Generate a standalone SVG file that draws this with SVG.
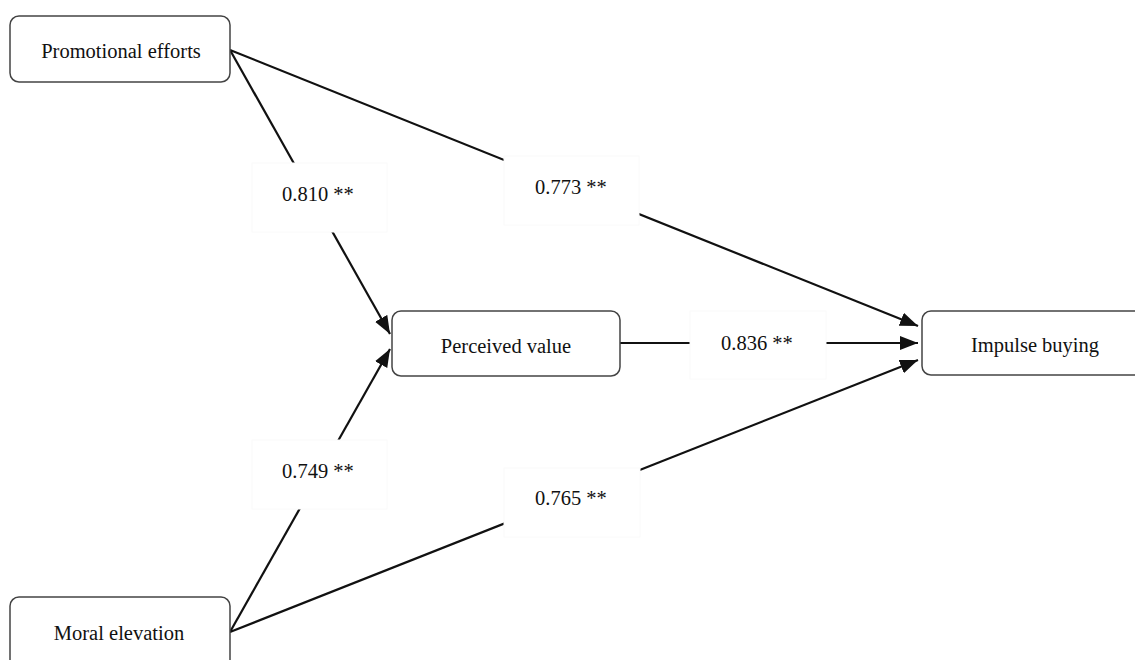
<svg xmlns="http://www.w3.org/2000/svg" width="1135" height="660" viewBox="0 0 1135 660">
<style>
.node rect{fill:#fff;stroke:#444;stroke-width:1.5}
.node text{font-family:"Liberation Serif",serif;font-size:20.5px;fill:#111;text-anchor:middle}
.edge{stroke:#111;stroke-width:2.2;fill:none}
.lbl rect{fill:#fff;stroke:#fafafa;stroke-width:1}
.lbl text{font-family:"Liberation Serif",serif;font-size:20.5px;fill:#111}
</style>
<defs>
<marker id="ah" markerUnits="userSpaceOnUse" markerWidth="20" markerHeight="16" refX="18" refY="7" orient="auto">
<path d="M0,0 L18,7 L0,14 Z" fill="#111"/>
</marker>
</defs>
<rect width="1135" height="660" fill="#fff"/>
<g id="connectors">
<line class="edge" x1="230" y1="50" x2="390" y2="334" marker-end="url(#ah)"/>
<line class="edge" x1="230" y1="50" x2="918" y2="326" marker-end="url(#ah)"/>
<line class="edge" x1="620" y1="343" x2="918" y2="343" marker-end="url(#ah)"/>
<line class="edge" x1="230" y1="632" x2="390" y2="349" marker-end="url(#ah)"/>
<line class="edge" x1="230" y1="632" x2="918" y2="360" marker-end="url(#ah)"/>
</g>
<g id="labels">
<g class="lbl"><rect x="252" y="163" width="135" height="69"/><text x="282" y="201">0.810 **</text></g>
<g class="lbl"><rect x="504" y="156" width="135" height="69"/><text x="535" y="194">0.773 **</text></g>
<g class="lbl"><rect x="690" y="311" width="136" height="68"/><text x="721" y="350">0.836 **</text></g>
<g class="lbl"><rect x="252" y="440" width="135" height="69"/><text x="282" y="478">0.749 **</text></g>
<g class="lbl"><rect x="504" y="468" width="136" height="69"/><text x="535" y="505">0.765 **</text></g>
</g>
<g id="promotional" class="node"><rect x="10" y="16" width="220" height="66" rx="9"/><text x="121" y="58">Promotional efforts</text></g>
<g id="perceived" class="node"><rect x="392" y="311" width="228" height="65" rx="9"/><text x="506" y="353">Perceived value</text></g>
<g id="impulse" class="node"><rect x="922" y="311" width="230" height="64" rx="9"/><text x="1035" y="352">Impulse buying</text></g>
<g id="moral" class="node"><rect x="10" y="597" width="220" height="80" rx="9"/><text x="119" y="640">Moral elevation</text></g>
</svg>
